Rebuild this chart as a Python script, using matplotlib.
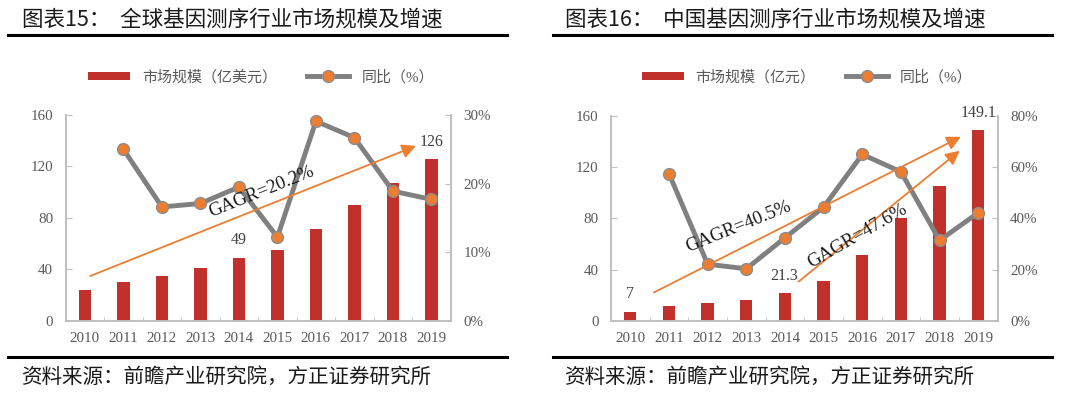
import matplotlib.pyplot as plt
import numpy as np
from matplotlib.lines import Line2D
from matplotlib.ticker import FuncFormatter, MultipleLocator

plt.rcParams['font.family'] = ['Liberation Serif', 'Noto Sans CJK SC', 'DejaVu Sans']

years = ["2010", "2011", "2012", "2013", "2014", "2015", "2016", "2017", "2018", "2019"]

# global market (100M USD) and yoy (%)
global_size = [24, 30, 35, 41, 49, 55, 71, 90, 107, 126]
global_yoy = [25.0, 16.6, 17.1, 19.5, 12.2, 29.1, 26.7, 18.9, 17.7]

# china market (100M CNY) and yoy (%)
china_size = [7, 11.5, 14, 16.5, 21.3, 31, 51, 80, 105, 149.1]
china_yoy = [57.5, 22.1, 20.3, 32.4, 44.4, 65.0, 58.2, 31.4, 42.2]

# CAGR arrows: (x0, y0, x1, y1) in bar-axis data units, label, label pos, rotation
global_arrows = [((0.14, 34.8, 8.6, 136), "GAGR=20.2%", (4.58, 100.4), 22)]
china_arrows = [((0.61, 22.1, 8.55, 143.8), "GAGR=40.5%", (2.80, 73.5), 22),
                ((4.35, 30.5, 8.52, 132.9), "GAGR=47.6%", (5.88, 66.4), 30)]

# value labels: (index, text, y)
global_labels = [(4, "49", 62.8), (9, "126", 139.3)]
china_labels = [(0, "7", 20.8), (3.98, "21.3", 34.9), (9, "149.1", 162.6)]

bar_c = '#c0312b'
line_c = '#808080'
dot_c = '#ed7d31'
axis_c = '#bfbfbf'
txt_c = '#595959'


def draw_panel(fig, rect, size, yoy, ymax2, ystep2, arrows, labels):
    ax = fig.add_axes(rect)
    x = np.arange(len(years))
    b = ax.bar(x, size, 0.32, color=bar_c, zorder=2)
    ax.set_xlim(-0.5, 9.5)
    ax.set_ylim(0, 160)
    ax.yaxis.set_major_locator(MultipleLocator(40))
    ax.set_xticks(x)
    ax.set_xticklabels(years)
    ax.set_xticks(np.arange(-0.5, 10, 1), minor=True)
    ax.tick_params(axis='x', which='major', length=0, pad=8, labelsize=10.8, labelcolor=txt_c)
    ax.tick_params(axis='x', which='minor', length=3, direction='in', color=axis_c)
    ax.tick_params(axis='y', direction='in', length=4, color=axis_c, pad=9,
                   labelsize=10.8, labelcolor=txt_c)
    for s in ['left', 'right', 'bottom']:
        ax.spines[s].set_color(axis_c)
        ax.spines[s].set_linewidth(1.2)
    ax.spines['top'].set_visible(False)

    ax2 = ax.twinx()
    l, = ax2.plot(x[1:], yoy, color=line_c, lw=3.5, marker='o', ms=8.5,
                  mfc=dot_c, mec='#8c8c8c', mew=1, zorder=3)
    ax2.set_ylim(0, ymax2)
    ax2.yaxis.set_major_locator(MultipleLocator(ystep2))
    ax2.yaxis.set_major_formatter(FuncFormatter(lambda v, p: "%d%%" % v))
    ax2.tick_params(axis='y', direction='in', length=4, color=axis_c, pad=9,
                    labelsize=10.8, labelcolor=txt_c)
    for s in ['left', 'right', 'bottom']:
        ax2.spines[s].set_color(axis_c)
        ax2.spines[s].set_linewidth(1.2)
    ax2.spines['top'].set_visible(False)

    for (x0, y0, x1, y1), t, (tx, ty), rot in arrows:
        ax2.annotate('', xy=(x1, y1), xytext=(x0, y0), xycoords=ax.transData,
                     textcoords=ax.transData,
                     arrowprops=dict(arrowstyle='-|>', color=dot_c, lw=1.3,
                                     mutation_scale=21, shrinkA=0, shrinkB=0))
        ax2.text(tx, ty, t, transform=ax.transData, fontsize=13.5, rotation=rot,
                 rotation_mode='anchor', ha='center', va='center', color='#1a1a1a')

    for i, t, y in labels:
        ax2.text(i, y, t, transform=ax.transData, fontsize=11.5, ha='center',
                 va='center', color='#404040', clip_on=False)

    return b, l


fig = plt.figure(figsize=(10.8, 3.94), dpi=100)

b1, l1 = draw_panel(fig, [0.0608, 0.186, 0.3565, 0.522], global_size, global_yoy,
                    30, 10, global_arrows, global_labels)
b2, l2 = draw_panel(fig, [0.5657, 0.186, 0.358, 0.5195], china_size, china_yoy,
                    80, 20, china_arrows, china_labels)

fig.legend([b1, l1], ["市场规模（亿美元）", "同比（%）"], loc='center',
           bbox_to_anchor=(0.2417, 0.8046), ncol=2, frameon=False, handlelength=2.8,
           handleheight=0.5, columnspacing=2.0, fontsize=10.8, labelcolor=txt_c)
fig.legend([b2, l2], ["市场规模（亿元）", "同比（%）"], loc='center',
           bbox_to_anchor=(0.747, 0.8046), ncol=2, frameon=False, handlelength=2.8,
           handleheight=0.5, columnspacing=2.0, fontsize=10.8, labelcolor=txt_c)

W, H = 1080.0, 394.0
fig.text(22 / W, 1 - 20 / H, "图表15：  全球基因测序行业市场规模及增速", fontsize=15.5,
         va='center', family=['Noto Sans CJK SC'], color='#1a1a1a')
fig.text(565 / W, 1 - 20 / H, "图表16：  中国基因测序行业市场规模及增速", fontsize=15.5,
         va='center', family=['Noto Sans CJK SC'], color='#1a1a1a')
for x0, x1 in [(8, 507), (553, 1052)]:
    fig.add_artist(Line2D([x0 / W, x1 / W], [1 - 35 / H] * 2, color='k', lw=2.2))
    fig.add_artist(Line2D([x0 / W, x1 / W], [1 - 357 / H] * 2, color='k', lw=2.2))
fig.text(22 / W, 1 - 377 / H, "资料来源：前瞻产业研究院，方正证券研究所", fontsize=14.8,
         va='center', style='italic', family=['Noto Sans CJK SC'], color='#1a1a1a')
fig.text(565 / W, 1 - 377 / H, "资料来源：前瞻产业研究院，方正证券研究所", fontsize=14.8,
         va='center', style='italic', family=['Noto Sans CJK SC'], color='#1a1a1a')

fig.savefig("out.png", dpi=100)
